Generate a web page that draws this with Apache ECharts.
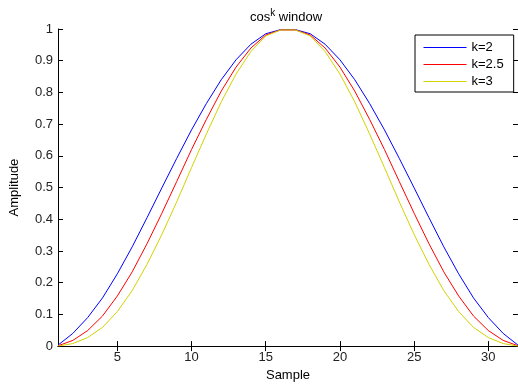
<!DOCTYPE html>
<html>
<head>
<meta charset="utf-8">
<script src="https://cdn.jsdelivr.net/npm/echarts@6/dist/echarts.min.js"></script>
<style>html,body{margin:0;padding:0;background:#fff;}#c{width:518px;height:387px;}</style>
</head>
<body>
<div id="c"></div>
<script>
var samples = [1,2,3,4,5,6,7,8,9,10,11,12,13,14,15,16,17,18,19,20,21,22,23,24,25,26,27,28,29,30,31,32];
var k2 = [0.003,0.040,0.090,0.152,0.228,0.313,0.405,0.499,0.592,0.682,0.765,0.840,0.903,0.952,0.985,0.998,
          0.998,0.985,0.952,0.903,0.840,0.765,0.682,0.592,0.499,0.405,0.313,0.228,0.152,0.090,0.040,0.003];
var k25 = [0.001,0.018,0.049,0.095,0.158,0.234,0.323,0.419,0.519,0.620,0.715,0.804,0.880,0.940,0.981,0.997,
           0.997,0.981,0.940,0.880,0.804,0.715,0.620,0.519,0.419,0.323,0.234,0.158,0.095,0.049,0.018,0.001];
var k3 = [0.000,0.008,0.027,0.059,0.109,0.175,0.258,0.352,0.455,0.563,0.669,0.770,0.858,0.929,0.978,0.997,
          0.997,0.978,0.929,0.858,0.770,0.669,0.563,0.455,0.352,0.258,0.175,0.109,0.059,0.027,0.008,0.000];
var seriesNames = ['k=2','k=2.5','k=3'];
var seriesColors = ['#0000ff','#ff0000','#d2d200'];
var xTicks = [5,10,15,20,25,30];
var yTicks = [0,0.1,0.2,0.3,0.4,0.5,0.6,0.7,0.8,0.9,1];

function pairs(arr){ return samples.map(function(s,i){ return [s, arr[i]]; }); }
var font = 'Liberation Sans, Arial, sans-serif';
var FS = 13;
var chart = echarts.init(document.getElementById('c'), null, {renderer:'canvas'});
var axisLine = {show:true, lineStyle:{color:'#000', width:1}};
chart.setOption({
  animation:false,
  backgroundColor:'#fff',
  color:seriesColors,
  title:{
    text:'{a|cos}{s|k}{a| window}',
    left:281, textAlign:'center', top:3,
    textStyle:{rich:{
      a:{fontFamily:font,fontSize:FS,color:'#000',fontWeight:'normal'},
      s:{fontFamily:font,fontSize:10,color:'#000',fontWeight:'normal',padding:[0,0,9,0]}
    }}
  },
  grid:{left:53, top:29, width:466, height:323, containLabel:false},
  legend:{
    orient:'vertical', left:415, top:35,
    padding:[6,10,4,8], itemGap:4, itemWidth:43, itemHeight:13,
    borderColor:'#000', borderWidth:1, backgroundColor:'#fff',
    textStyle:{fontFamily:font, fontSize:FS, color:'#000', lineHeight:13},
    itemStyle:{opacity:0},
    lineStyle:{width:1, opacity:1},
    data:seriesNames
  },
  xAxis:[{
    type:'value', min:1, max:32, position:'bottom',
    name:'Sample', nameLocation:'middle', nameGap:21,
    nameTextStyle:{fontFamily:font,fontSize:FS,color:'#000'},
    axisLine:axisLine, splitLine:{show:false},
    axisTick:{inside:true,length:5,customValues:xTicks,lineStyle:{color:'#000'}},
    axisLabel:{customValues:xTicks,fontFamily:font,fontSize:FS,color:'#222',margin:5}
  },{
    type:'value', min:1, max:32, position:'top',
    axisLine:axisLine, splitLine:{show:false},
    axisTick:{inside:true,length:5,customValues:xTicks,lineStyle:{color:'#000'}},
    axisLabel:{show:false}
  }],
  yAxis:[{
    type:'value', min:0, max:1, interval:0.1, position:'left',
    name:'Amplitude', nameLocation:'middle', nameGap:37, nameRotate:90,
    nameTextStyle:{fontFamily:font,fontSize:FS,color:'#000'},
    axisLine:axisLine, splitLine:{show:false},
    axisTick:{inside:true,length:5,lineStyle:{color:'#000'}},
    axisLabel:{fontFamily:font,fontSize:FS,color:'#222',margin:5,
      formatter:function(v){ var i = yTicks.indexOf(Math.round(v*10)/10); return i>=0 ? String(yTicks[i]) : ''; }}
  },{
    type:'value', min:0, max:1, interval:0.1, position:'right',
    axisLine:axisLine, splitLine:{show:false},
    axisTick:{inside:true,length:5,lineStyle:{color:'#000'}},
    axisLabel:{show:false}
  }],
  series:[k2,k25,k3].map(function(arr,i){
    return {type:'line', name:seriesNames[i], data:pairs(arr), xAxisIndex:0, yAxisIndex:0,
      symbol:'none', showSymbol:false, smooth:false,
      lineStyle:{color:seriesColors[i], width:1}, itemStyle:{color:seriesColors[i]}};
  })
});
</script>
</body>
</html>
